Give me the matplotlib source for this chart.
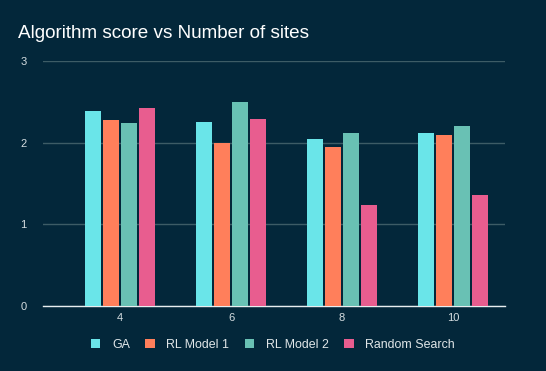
import matplotlib
matplotlib.use("Agg")
import matplotlib.pyplot as plt
import numpy as np

categories = ["4", "6", "8", "10"]
series_names = ["GA", "RL Model 1", "RL Model 2", "Random Search"]
ga = [2.39, 2.25, 2.04, 2.12]
rl1 = [2.28, 2.00, 1.95, 2.10]
rl2 = [2.245, 2.50, 2.12, 2.21]
rs = [2.42, 2.29, 1.24, 1.36]
values = [ga, rl1, rl2, rs]
colors = ["#6ae5e9", "#ff7f5b", "#69c1b4", "#e85d8f"]

plt.rcParams['font.family'] = ['Liberation Sans', 'DejaVu Sans']

fig = plt.figure(figsize=(5.46, 3.71), dpi=100, facecolor="#03273a")
W, H = 546, 371
left, right = 43, 505
top, bottom = 61, 306
ax = fig.add_axes([left / W, 1 - bottom / H, (right - left) / W, (bottom - top) / H])
ax.set_facecolor("#03273a")

x = np.arange(len(categories))
step = 0.162
width = 0.144
for i, (name, vals, c) in enumerate(zip(series_names, values, colors)):
    ax.bar(x + (i - 1.5) * step, vals, width=width, color=c, label=name, zorder=3)

ax.set_xlim(-0.694, 3.468)
ax.set_ylim(0, 3)
ax.set_yticks([0, 1, 2, 3])
ax.set_xticks(x)
ax.set_xticklabels(categories)
ax.yaxis.grid(True, color="#3d5c66", linewidth=1)
ax.set_axisbelow(True)
for s in ["top", "right", "left"]:
    ax.spines[s].set_visible(False)
ax.spines["bottom"].set_color("#e8eef0")
ax.spines["bottom"].set_linewidth(1)
ax.tick_params(axis="both", length=0, colors="#d5dde0", labelsize=8)
ax.tick_params(axis="y", pad=12)
ax.tick_params(axis="x", pad=5)

fig.text(18 / W, 1 - 33 / H, "Algorithm score vs Number of sites", color="white",
         fontsize=13.6, va="center", ha="left")

leg = fig.legend(loc="center", bbox_to_anchor=(273 / W, 1 - 345 / H), ncol=4,
                 frameon=False, fontsize=8.9, labelcolor="#e0e6e8",
                 handlelength=0.75, handleheight=0.75, columnspacing=1.25, handletextpad=0.95)

fig.savefig("out.png", dpi=100, facecolor=fig.get_facecolor())
